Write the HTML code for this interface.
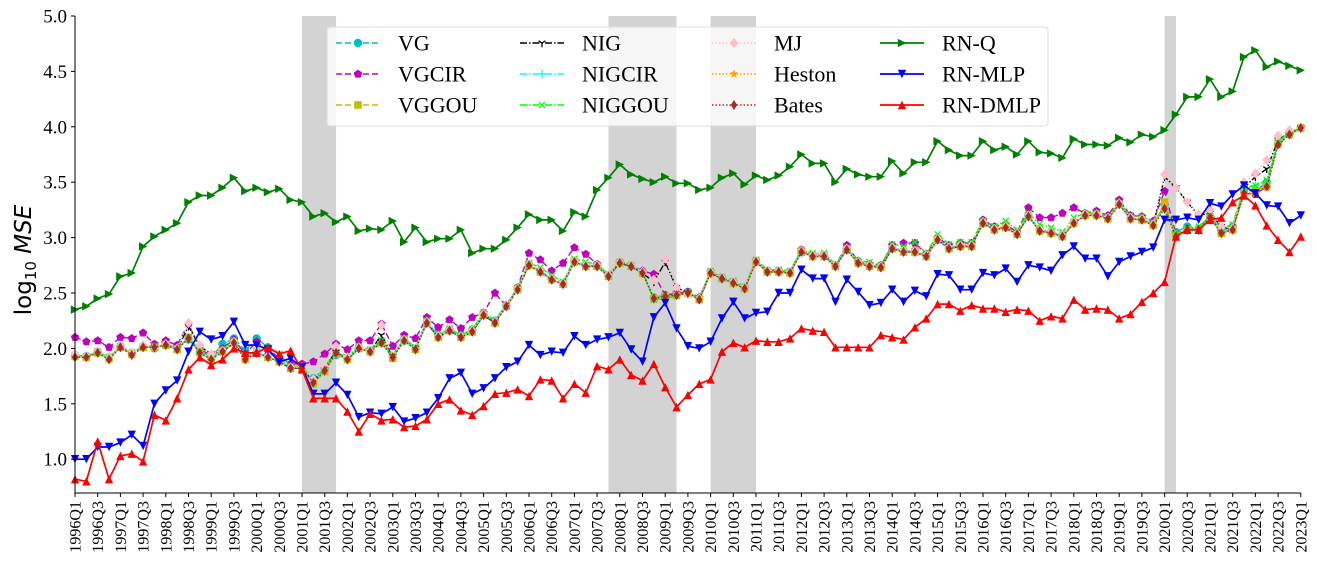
<!DOCTYPE html>
<html><head><meta charset="utf-8"><style>
html,body{margin:0;padding:0;background:#fff;}
svg{display:block;}
text{font-family:"Liberation Serif",serif;fill:#000;}
</style></head><body>
<svg id="chart" width="1317" height="576" viewBox="0 0 1317 576" xmlns="http://www.w3.org/2000/svg">
<g id="bands"></g>
<g id="series"></g>
<g id="axes"></g>
<g id="legend"></g>
<text transform="translate(31,260) rotate(-90)" text-anchor="middle" style="font-family:'DejaVu Sans',sans-serif;font-size:23px">log<tspan font-size="15" dy="5">10</tspan><tspan dy="-5" font-style="italic"> MSE</tspan></text>
</svg>
<script>
const NS='http://www.w3.org/2000/svg';
const yTicks=[1.0,1.5,2.0,2.5,3.0,3.5,4.0,4.5,5.0];
const recessions=[[20,23],[47,53],[56,60],[96,97]];
const rnQ=[2.35,2.38,2.45,2.49,2.65,2.68,2.92,3.01,3.07,3.13,3.32,3.38,3.38,3.45,3.54,3.42,3.45,3.41,3.44,3.34,3.32,3.19,3.22,3.14,3.19,3.06,3.08,3.07,3.15,2.96,3.09,2.96,2.99,2.99,3.07,2.86,2.90,2.90,2.98,3.09,3.21,3.16,3.16,3.06,3.23,3.19,3.43,3.54,3.66,3.57,3.53,3.50,3.55,3.49,3.49,3.43,3.45,3.54,3.58,3.48,3.56,3.52,3.56,3.64,3.75,3.67,3.67,3.50,3.62,3.57,3.55,3.55,3.69,3.58,3.68,3.68,3.87,3.79,3.74,3.74,3.87,3.79,3.82,3.75,3.87,3.77,3.76,3.72,3.89,3.84,3.84,3.83,3.90,3.86,3.93,3.91,3.97,4.11,4.27,4.27,4.43,4.27,4.32,4.63,4.69,4.54,4.59,4.55,4.51];
const rnMLP=[1.00,1.00,1.11,1.11,1.15,1.22,1.12,1.50,1.62,1.71,1.97,2.15,2.08,2.11,2.24,2.03,2.03,1.99,1.88,1.91,1.83,1.59,1.59,1.69,1.58,1.38,1.42,1.41,1.47,1.34,1.37,1.42,1.55,1.73,1.78,1.59,1.64,1.73,1.83,1.88,2.03,1.94,1.97,1.96,2.11,2.03,2.08,2.10,2.14,1.99,1.88,2.28,2.41,2.18,2.02,2.00,2.06,2.27,2.42,2.27,2.32,2.33,2.50,2.50,2.71,2.63,2.63,2.42,2.62,2.51,2.39,2.41,2.53,2.42,2.52,2.47,2.67,2.66,2.53,2.53,2.68,2.66,2.72,2.60,2.75,2.73,2.70,2.84,2.92,2.81,2.81,2.65,2.78,2.83,2.87,2.91,3.16,3.16,3.18,3.16,3.31,3.28,3.39,3.47,3.40,3.29,3.28,3.13,3.20];
const rnDMLP=[0.82,0.80,1.16,0.82,1.03,1.05,0.98,1.40,1.35,1.55,1.81,1.92,1.85,1.90,2.00,1.96,1.96,2.01,1.95,1.98,1.81,1.55,1.55,1.55,1.43,1.25,1.41,1.35,1.36,1.29,1.30,1.36,1.50,1.54,1.44,1.40,1.48,1.59,1.60,1.63,1.57,1.72,1.71,1.55,1.68,1.60,1.84,1.81,1.90,1.76,1.71,1.86,1.65,1.47,1.58,1.68,1.72,1.97,2.05,2.01,2.07,2.06,2.06,2.09,2.18,2.16,2.15,2.01,2.01,2.01,2.01,2.12,2.10,2.08,2.19,2.27,2.40,2.40,2.34,2.39,2.36,2.36,2.33,2.35,2.34,2.25,2.29,2.27,2.44,2.35,2.36,2.35,2.27,2.31,2.42,2.50,2.60,3.01,3.07,3.07,3.16,3.18,3.32,3.38,3.29,3.11,2.98,2.87,3.01];
const bates=[1.92,1.92,1.96,1.90,2.01,1.94,2.01,2.01,2.03,1.99,2.09,1.96,1.90,1.97,2.05,1.90,1.96,1.92,1.88,1.82,1.82,1.69,1.80,1.96,1.90,2.00,1.97,2.05,1.92,2.07,1.99,2.23,2.10,2.16,2.10,2.15,2.30,2.23,2.38,2.53,2.75,2.69,2.62,2.58,2.78,2.74,2.74,2.65,2.77,2.74,2.68,2.45,2.47,2.48,2.50,2.44,2.68,2.63,2.59,2.54,2.78,2.69,2.69,2.68,2.87,2.83,2.83,2.74,2.89,2.77,2.74,2.73,2.90,2.87,2.87,2.83,2.98,2.90,2.92,2.92,3.13,3.07,3.09,3.03,3.19,3.06,3.04,3.01,3.13,3.20,3.20,3.17,3.30,3.17,3.16,3.11,3.26,3.01,3.07,3.07,3.18,3.04,3.07,3.40,3.40,3.46,3.84,3.93,3.99];
const vg=[1.94,1.93,1.97,1.92,2.02,1.96,2.02,2.00,2.04,2.01,2.08,1.97,1.92,2.04,2.09,1.98,2.09,2.01,1.90,1.84,1.83,1.73,1.82,1.94,1.91,2.01,1.98,2.06,1.93,2.08,2.00,2.24,2.12,2.17,2.12,2.17,2.31,2.25,2.39,2.54,2.76,2.70,2.63,2.59,2.79,2.75,2.75,2.66,2.78,2.75,2.69,2.46,2.48,2.49,2.51,2.45,2.69,2.64,2.60,2.55,2.79,2.70,2.70,2.69,2.88,2.84,2.84,2.75,2.90,2.78,2.75,2.74,2.91,2.88,2.88,2.84,2.99,2.91,2.93,2.93,3.14,3.08,3.10,3.04,3.20,3.07,3.05,3.02,3.14,3.21,3.21,3.18,3.31,3.18,3.17,3.12,3.30,3.05,3.10,3.08,3.20,3.06,3.10,3.44,3.42,3.50,3.86,3.94,3.99];
const vgcir=[2.10,2.06,2.07,2.01,2.10,2.09,2.14,2.04,2.07,2.03,2.22,2.00,1.93,2.00,2.08,1.95,2.06,1.98,1.92,1.86,1.86,1.88,1.95,2.04,1.99,2.07,2.07,2.22,2.02,2.12,2.09,2.28,2.19,2.26,2.18,2.28,2.32,2.50,2.38,2.55,2.86,2.80,2.70,2.77,2.91,2.85,2.76,2.66,2.78,2.75,2.70,2.67,2.48,2.50,2.51,2.46,2.69,2.64,2.60,2.55,2.79,2.70,2.70,2.69,2.89,2.84,2.84,2.75,2.93,2.79,2.76,2.75,2.93,2.95,2.95,2.85,3.00,2.93,2.95,2.95,3.16,3.10,3.12,3.05,3.27,3.18,3.18,3.22,3.27,3.22,3.24,3.20,3.34,3.20,3.19,3.15,3.42,3.03,3.08,3.07,3.18,3.05,3.08,3.40,3.39,3.46,3.84,3.93,3.99];
const vggou=[1.93,1.92,1.96,1.91,2.01,1.95,2.01,2.01,2.03,1.99,2.10,1.96,1.90,1.97,2.05,1.90,1.96,1.92,1.88,1.82,1.82,1.68,1.79,1.95,1.90,2.00,1.97,2.05,1.91,2.07,1.99,2.23,2.10,2.16,2.10,2.15,2.30,2.23,2.38,2.53,2.75,2.69,2.62,2.58,2.78,2.74,2.74,2.65,2.77,2.74,2.68,2.45,2.47,2.48,2.50,2.44,2.68,2.63,2.59,2.54,2.78,2.69,2.69,2.68,2.87,2.83,2.83,2.74,2.89,2.77,2.74,2.73,2.90,2.87,2.87,2.83,2.98,2.90,2.92,2.92,3.13,3.07,3.09,3.03,3.19,3.06,3.04,3.01,3.13,3.20,3.20,3.17,3.30,3.17,3.16,3.11,3.32,3.02,3.07,3.07,3.18,3.04,3.07,3.42,3.42,3.47,3.85,3.93,3.99];
const nig=[1.93,1.92,1.96,1.91,2.01,1.95,2.01,2.01,2.03,1.99,2.20,2.02,1.95,1.97,2.05,1.92,1.96,1.93,1.88,1.82,1.82,1.70,1.83,1.97,1.90,2.00,1.97,2.12,1.93,2.07,2.00,2.23,2.10,2.16,2.10,2.15,2.30,2.23,2.38,2.53,2.75,2.69,2.62,2.58,2.78,2.74,2.74,2.65,2.77,2.74,2.68,2.60,2.78,2.55,2.50,2.44,2.68,2.63,2.59,2.54,2.78,2.69,2.69,2.68,2.87,2.83,2.83,2.74,2.89,2.77,2.74,2.73,2.90,2.87,2.87,2.83,2.98,2.90,2.92,2.92,3.13,3.07,3.09,3.03,3.19,3.06,3.04,3.01,3.13,3.20,3.20,3.17,3.30,3.17,3.16,3.11,3.55,3.45,3.32,3.20,3.22,3.10,3.07,3.45,3.55,3.62,3.88,3.95,3.99];
const nigcir=[1.93,1.92,1.96,1.91,2.01,1.95,2.02,2.00,2.03,1.99,2.09,1.96,1.90,1.98,2.06,1.91,1.97,1.92,1.88,1.83,1.82,1.70,1.81,1.95,1.91,2.00,1.97,2.06,1.92,2.07,1.99,2.23,2.10,2.16,2.10,2.16,2.30,2.24,2.38,2.53,2.75,2.69,2.62,2.58,2.78,2.74,2.74,2.65,2.77,2.74,2.68,2.45,2.47,2.48,2.50,2.44,2.69,2.63,2.59,2.55,2.78,2.69,2.69,2.68,2.87,2.83,2.83,2.74,2.89,2.77,2.74,2.73,2.90,2.87,2.87,2.83,2.98,2.90,2.92,2.92,3.13,3.07,3.09,3.03,3.19,3.06,3.04,3.01,3.13,3.20,3.20,3.17,3.30,3.17,3.16,3.11,3.28,3.03,3.06,3.06,3.17,3.05,3.09,3.45,3.47,3.50,3.86,3.94,3.99];
const niggou=[1.94,1.93,1.97,1.92,2.02,1.96,2.02,2.02,2.04,2.00,2.10,1.98,1.92,1.99,2.07,1.93,1.98,2.00,1.95,1.84,1.84,1.71,1.82,1.97,1.92,2.02,1.99,2.07,1.94,2.09,2.01,2.25,2.12,2.18,2.12,2.17,2.33,2.25,2.40,2.55,2.77,2.73,2.66,2.60,2.81,2.78,2.76,2.67,2.78,2.75,2.69,2.44,2.45,2.47,2.51,2.45,2.70,2.64,2.61,2.56,2.80,2.71,2.71,2.70,2.89,2.86,2.86,2.76,2.91,2.79,2.78,2.75,2.94,2.92,2.96,2.86,3.03,2.94,2.96,2.96,3.15,3.10,3.15,3.07,3.22,3.12,3.09,3.05,3.18,3.22,3.22,3.19,3.31,3.20,3.19,3.14,3.28,3.03,3.08,3.10,3.19,3.08,3.12,3.45,3.47,3.52,3.87,3.95,3.99];
const mj=[1.95,1.93,1.97,1.92,2.02,1.96,2.03,2.01,2.04,2.00,2.23,2.03,1.95,1.98,2.06,1.91,1.97,1.93,1.89,1.83,1.83,1.72,1.84,2.02,1.92,2.01,1.98,2.21,1.93,2.08,2.00,2.24,2.11,2.17,2.11,2.16,2.31,2.24,2.39,2.54,2.76,2.70,2.63,2.59,2.79,2.75,2.75,2.66,2.78,2.75,2.69,2.62,2.81,2.55,2.49,2.45,2.69,2.64,2.60,2.55,2.79,2.70,2.70,2.69,2.88,2.84,2.84,2.75,2.90,2.78,2.75,2.74,2.91,2.88,2.88,2.84,2.99,2.91,2.93,2.93,3.14,3.08,3.10,3.04,3.20,3.07,3.05,3.02,3.14,3.21,3.21,3.18,3.31,3.18,3.17,3.12,3.57,3.45,3.32,3.21,3.25,3.10,3.08,3.50,3.58,3.70,3.92,3.97,3.99];
const heston=[1.92,1.92,1.96,1.90,2.01,1.94,2.01,2.01,2.03,1.99,2.09,1.96,1.90,1.97,2.05,1.90,1.96,1.92,1.88,1.82,1.82,1.69,1.80,1.96,1.90,2.00,1.97,2.05,1.92,2.07,1.99,2.23,2.10,2.16,2.10,2.15,2.30,2.23,2.38,2.53,2.75,2.69,2.62,2.58,2.78,2.74,2.74,2.65,2.77,2.74,2.68,2.46,2.46,2.48,2.50,2.44,2.68,2.63,2.59,2.54,2.78,2.69,2.69,2.68,2.87,2.83,2.83,2.74,2.89,2.77,2.74,2.73,2.90,2.87,2.87,2.83,2.98,2.90,2.92,2.92,3.13,3.07,3.09,3.03,3.19,3.06,3.04,3.01,3.13,3.20,3.20,3.17,3.30,3.17,3.16,3.11,3.30,3.02,3.07,3.07,3.18,3.04,3.07,3.38,3.40,3.45,3.84,3.93,3.99];

const X0=75,X1=1300.8,Y0=16,YB=493;
const N=rnQ.length;
function xs(i){return X0+i*(X1-X0)/(N-1);}
function ys(v){return Y0+(5-v)*(459.2-Y0)/4;}
function el(tag,attrs,parent){const e=document.createElementNS(NS,tag);for(const k in attrs)e.setAttribute(k,attrs[k]);if(parent)parent.appendChild(e);return e;}

const bandsG=document.getElementById('bands');
recessions.forEach(r=>{
  const b=el('rect',{x:xs(r[0]),y:Y0,width:xs(r[1])-xs(r[0]),height:YB-Y0,fill:'#d3d3d3'},bandsG);
  
  
});

function marker(g,type,cx,cy,color){
  let m;const s=4.2;
  if(type==='o'){m=el('circle',{cx,cy,r:s,fill:color},g);}
  else if(type==='p'){let pts=[];for(let k=0;k<5;k++){const a=-Math.PI/2+k*2*Math.PI/5;pts.push((cx+s*1.05*Math.cos(a)).toFixed(1)+','+(cy+s*1.05*Math.sin(a)).toFixed(1));}m=el('polygon',{points:pts.join(' '),fill:color},g);}
  else if(type==='s'){m=el('rect',{x:cx-s*0.9,y:cy-s*0.9,width:s*1.8,height:s*1.8,fill:color},g);}
  else if(type==='+'){m=el('path',{d:`M${cx-s},${cy}H${cx+s}M${cx},${cy-s}V${cy+s}`,stroke:color,'stroke-width':1.3,fill:'none'},g);}
  else if(type==='x'){m=el('path',{d:`M${cx-3},${cy-3}L${cx+3},${cy+3}M${cx-3},${cy+3}L${cx+3},${cy-3}`,stroke:color,'stroke-width':1.3,fill:'none'},g);}
  else if(type==='1'){m=el('path',{d:`M${cx},${cy}V${cy+s}M${cx},${cy}L${cx-3.5},${cy-2.2}M${cx},${cy}L${cx+3.5},${cy-2.2}`,stroke:color,'stroke-width':1.3,fill:'none'},g);}
  else if(type==='D'){m=el('polygon',{points:`${cx},${cy-s*1.2} ${cx+s*1.1},${cy} ${cx},${cy+s*1.2} ${cx-s*1.1},${cy}`,fill:color},g);}
  else if(type==='d'){m=el('polygon',{points:`${cx},${cy-s*1.2} ${cx+s*0.75},${cy} ${cx},${cy+s*1.2} ${cx-s*0.75},${cy}`,fill:color},g);}
  else if(type==='*'){let pts=[];for(let k=0;k<10;k++){const a=-Math.PI/2+k*Math.PI/5;const rr=k%2?s*0.5:s*1.1;pts.push((cx+rr*Math.cos(a)).toFixed(1)+','+(cy+rr*Math.sin(a)).toFixed(1));}m=el('polygon',{points:pts.join(' '),fill:color},g);}
  else if(type==='>'){m=el('polygon',{points:`${cx+s},${cy} ${cx-s},${cy-s} ${cx-s},${cy+s}`,fill:color},g);}
  else if(type==='v'){m=el('polygon',{points:`${cx},${cy+s} ${cx-s},${cy-s} ${cx+s},${cy-s}`,fill:color},g);}
  else if(type==='^'){m=el('polygon',{points:`${cx},${cy-s} ${cx-s},${cy+s} ${cx+s},${cy+s}`,fill:color},g);}
  
  
}

const seriesDefs=[
 {name:'VG',data:vg,color:'#00bfbf',dash:'6,3',m:'o',w:1.4},
 {name:'VGCIR',data:vgcir,color:'#bf00bf',dash:'6,3',m:'p',w:1.4},
 {name:'VGGOU',data:vggou,color:'#bfbf00',dash:'6,3',m:'s',w:1.4},
 {name:'NIG',data:nig,color:'#000000',dash:'7,2,1.5,2',m:'1',w:1.4},
 {name:'NIGCIR',data:nigcir,color:'#00ffff',dash:'7,2,1.5,2',m:'+',w:1.4},
 {name:'NIGGOU',data:niggou,color:'#00ff00',dash:'7,2,1.5,2',m:'x',w:1.4},
 {name:'MJ',data:mj,color:'#ffc0cb',dash:'1.5,2',m:'D',w:1.4},
 {name:'Heston',data:heston,color:'#ffa500',dash:'1.5,2',m:'*',w:1.4},
 {name:'Bates',data:bates,color:'#a52a2a',dash:'1.5,2',m:'d',w:1.4},
 {name:'RN-Q',data:rnQ,color:'#008000',dash:'',m:'>',w:1.7},
 {name:'RN-MLP',data:rnMLP,color:'#0000ff',dash:'',m:'v',w:1.7},
 {name:'RN-DMLP',data:rnDMLP,color:'#ff0000',dash:'',m:'^',w:1.7}
];
const sG=document.getElementById('series');
seriesDefs.forEach(sd=>{
  const g=el('g',{},sG);
  
  
  const d=sd.data.map((v,i)=>(i?'L':'M')+xs(i).toFixed(1)+','+ys(v).toFixed(1)).join('');
  const p=el('path',{d,stroke:sd.color,'stroke-width':sd.w,fill:'none','stroke-dasharray':sd.dash||'none'},g);
  
  
  sd.data.forEach((v,i)=>marker(g,sd.m,xs(i),ys(v),sd.color));
});

const aG=document.getElementById('axes');
const yl=el('line',{x1:X0,y1:Y0,x2:X0,y2:YB,stroke:'#000','stroke-width':1},aG);

const xl=el('line',{x1:X0,y1:YB,x2:X1,y2:YB,stroke:'#000','stroke-width':1},aG);

yTicks.forEach(t=>{
  const y=ys(t);
  el('line',{x1:X0-4,y1:y,x2:X0,y2:y,stroke:'#000'},aG);
  const tx=el('text',{x:X0-8,y:y+6.5,'text-anchor':'end','font-size':19},aG);
  tx.textContent=t.toFixed(1);
  
  
});
for(let i=0;i<N;i+=2){
  const x=xs(i);
  el('line',{x1:x,y1:YB,x2:x,y2:YB+4,stroke:'#000'},aG);
  const yr=1996+Math.floor(i/4),q=(i%4)+1;
  const tx=el('text',{transform:`translate(${x+5.5},${YB+8}) rotate(-90)`,'text-anchor':'end','font-size':16},aG);
  tx.textContent=yr+'Q'+q;
  
  
}

const lG=document.getElementById('legend');
const box=el('rect',{x:327,y:27,width:721,height:99,rx:3,fill:'rgba(255,255,255,0.8)',stroke:'#dcdcdc','stroke-width':1},lG);

const colX=[336,520,712,880],rowY=[43,74,105];
seriesDefs.forEach((sd,k)=>{
  const c=Math.floor(k/3),r=k%3;
  const g=el('g',{},lG);
  
  
  const x=colX[c],y=rowY[r];
  el('line',{x1:x,y1:y,x2:x+44,y2:y,stroke:sd.color,'stroke-width':sd.w,'stroke-dasharray':sd.dash||'none'},g);
  marker(g,sd.m,x+22,y,sd.color);
  const t=el('text',{x:x+62,y:y+7.5,'font-size':22},g);
  t.textContent=sd.name;
});
</script>
</body></html>
